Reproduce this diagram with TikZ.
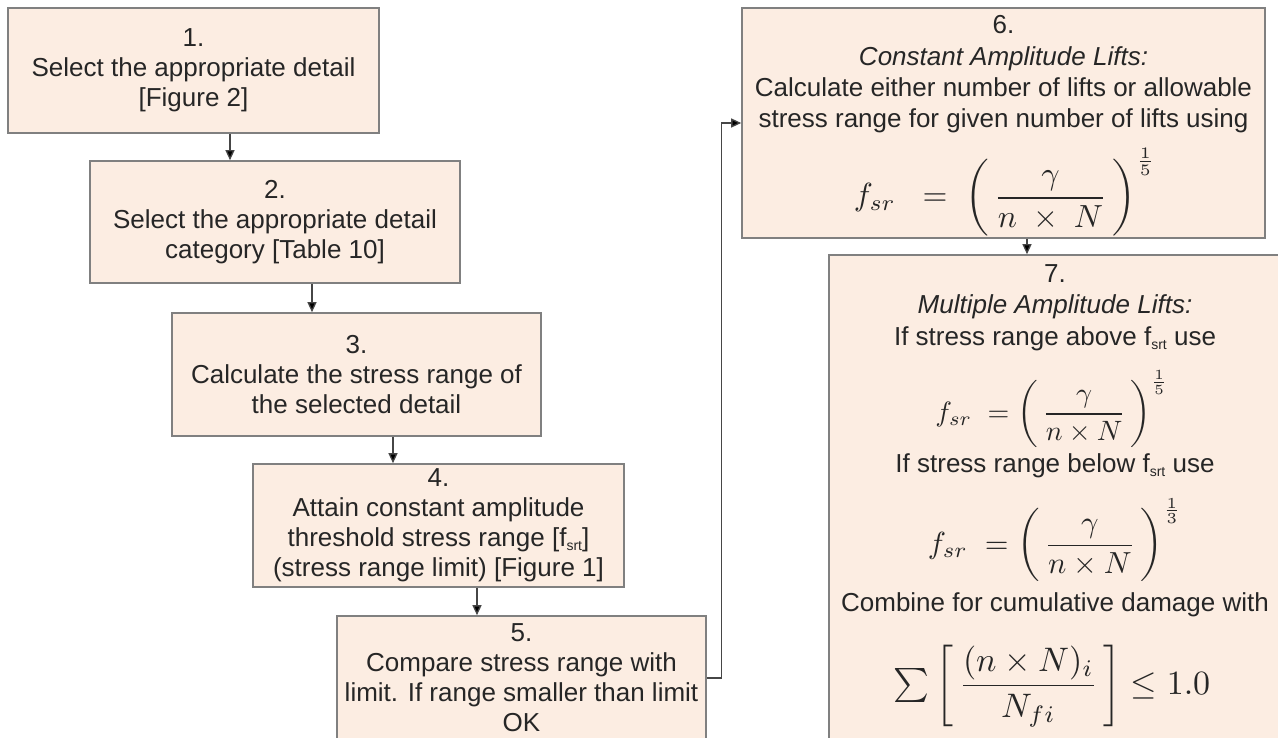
\documentclass[tikz,border=0pt]{standalone}
\usepackage{amsmath}
\usepackage{fontspec}
\setmainfont{Liberation Sans}
\usetikzlibrary{arrows.meta,calc}
\definecolor{boxfill}{RGB}{252,237,226}
\definecolor{boxdraw}{RGB}{128,128,128}
\definecolor{txt}{RGB}{38,38,38}
\definecolor{linecol}{RGB}{70,70,70}
\tikzset{
  stepbox/.style={draw=boxdraw, fill=boxfill, line width=1.6pt, rectangle, inner sep=0pt,
    align=center, text=txt, font=\fontsize{26}{30}\selectfont},
  arr/.style={draw=linecol, line width=1.3pt, -{Triangle[length=10pt,width=9pt,fill=black]}},
  lbl/.style={text=txt, font=\fontsize{26}{30}\selectfont, anchor=base, inner sep=0pt},
  eq/.style={text=txt, anchor=base, inner sep=0pt},
}
\newcommand{\subtxt}[1]{\raisebox{-4pt}{\fontsize{14}{14}\selectfont #1}}
\newcommand{\eqbox}[4]{\raisebox{0pt}[#2][#3]{\scalebox{#1}{#4}}}
\begin{document}
\begin{tikzpicture}[x=1pt,y=-1pt]
\useasboundingbox (0,0) rectangle (1278,738);
\begin{scope}
\clip (0,0) rectangle (1278,738);
% left column
\node[stepbox, minimum width=371pt, minimum height=125pt] (b1) at (193.5,70.5)
  {1.\\Select the appropriate detail\\{[}Figure 2{]}};
\node[stepbox, minimum width=370pt, minimum height=122pt] (b2) at (275,222)
  {2.\\Select the appropriate detail\\category {[}Table 10{]}};
\node[stepbox, minimum width=369pt, minimum height=123pt] (b3) at (356.5,374.5)
  {3.\\Calculate the stress range of\\the selected detail};
\node[stepbox, minimum width=371pt, minimum height=123pt] (b4) at (438.5,525.5)
  {4.\\Attain constant amplitude\\threshold stress range {[}f\subtxt{srt}{]}\\(stress range limit) {[}Figure 1{]}};
\node[stepbox, minimum width=369pt, minimum height=124pt] (b5) at (521.5,678)
  {5.\\Compare stress range with\\limit. If range smaller than limit\\OK};
% right column
\node[stepbox, minimum width=523pt, minimum height=230pt] (b6) at (1003.5,123) {};
\node[stepbox, minimum width=452pt, minimum height=490pt] (b7) at (1055,500) {};

\node[lbl] (t6a) at (1003.5,34) {6.};
\node[lbl] (t6b) at (1003.5,66) {\itshape Constant Amplitude Lifts:};
\node[lbl] (t6c) at (1003.5,97) {Calculate either number of lifts or allowable};
\node[lbl] (t6d) at (1003.5,128) {stress range for given number of lifts using};
\node[eq] (f6) at (1005,206)
  {\eqbox{3.2}{60pt}{28pt}{$\displaystyle f_{sr}\;\;=\;\left(\,\frac{\gamma}{n\;\times\;N}\,\right)^{\frac{1}{5}}$}};

\node[lbl] (t7a) at (1055,283) {7.};
\node[lbl] (t7b) at (1055,314) {\itshape Multiple Amplitude Lifts:};
\node[lbl] (t7c) at (1055,345) {If stress range above f\subtxt{srt} use};
\node[eq] (f7a) at (1052,421)
  {\eqbox{2.8}{58pt}{24pt}{$\displaystyle f_{sr}\;=\left(\,\frac{\gamma}{n\times N}\,\right)^{\frac{1}{5}}$}};
\node[lbl] (t7d) at (1055,472) {If stress range below f\subtxt{srt} use};
\node[eq] (f7b) at (1055,553)
  {\eqbox{3.05}{60pt}{30pt}{$\displaystyle f_{sr}\;=\left(\,\frac{\gamma}{n\times N}\,\right)^{\frac{1}{3}}$}};
\node[lbl] (t7e) at (1055,611) {Combine for cumulative damage with};
\node[eq] (f7c) at (1052,694)
  {\eqbox{3.4}{68pt}{40pt}{$\textstyle\sum\displaystyle\left[\,\frac{(n\times N)_{i}}{N_{fi}}\,\right]\le 1.0$}};

% connectors
\draw[arr] ([xshift=36.5pt]b1.south) -- ([xshift=36.5pt]b1.south |- b2.north);
\draw[arr] ([xshift=37pt]b2.south) -- ([xshift=37pt]b2.south |- b3.north);
\draw[arr] ([xshift=36.5pt]b3.south) -- ([xshift=36.5pt]b3.south |- b4.north);
\draw[arr] ([xshift=38.5pt]b4.south) -- ([xshift=38.5pt]b4.south |- b5.north);
\draw[arr] (b5.east) -- ++(15,0) |- (b6.west);
\draw[arr] ([xshift=23.5pt]b6.south) -- ([xshift=23.5pt]b6.south |- b7.north);
\end{scope}
\end{tikzpicture}
\end{document}
